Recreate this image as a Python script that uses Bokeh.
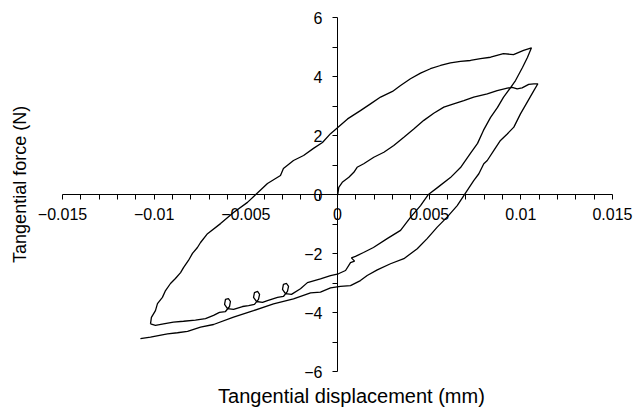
from bokeh.plotting import figure
from bokeh.models import LinearAxis, FixedTicker, Range1d, Label, ColumnDataSource
from bokeh.embed import file_html
from bokeh.resources import INLINE
import math

# ---- data (displacement in mm, force in N) ----
# Cycle B (closed loop): rising branch, descending branch, lower return branch
cycB_up_x = [-0.01020, -0.01015, -0.00993, -0.00982, -0.00955, -0.00938, -0.00911, -0.00884, -0.00856, -0.00840,
             -0.00813, -0.00791, -0.00764, -0.00747, -0.00709, -0.00638, -0.00567, -0.00491, -0.00447, -0.00382,
             -0.00311, -0.00295, -0.00240, -0.00185, -0.00131, -0.00082, -0.00038, 0.0, 0.00055, 0.00125,
             0.00180, 0.00235, 0.00300, 0.00344, 0.00398, 0.00453, 0.00507, 0.00562, 0.00616, 0.00671,
             0.00725, 0.00780, 0.00835, 0.00905, 0.00960, 0.01015, 0.01058]
cycB_up_y = [-4.37, -4.15, -3.92, -3.68, -3.47, -3.24, -3.00, -2.83, -2.63, -2.46,
             -2.22, -1.98, -1.78, -1.61, -1.31, -0.97, -0.59, -0.25, 0.01, 0.39,
             0.66, 0.90, 1.17, 1.34, 1.58, 1.78, 2.08, 2.28, 2.58, 2.86,
             3.09, 3.32, 3.51, 3.71, 3.94, 4.13, 4.28, 4.39, 4.48, 4.53,
             4.56, 4.62, 4.67, 4.79, 4.76, 4.90, 4.99]
cycB_down_x = [0.01036, 0.01009, 0.00971, 0.00944, 0.00905, 0.00873, 0.00835, 0.00796, 0.00764, 0.00725,
               0.00671, 0.00616, 0.00545, 0.00496, 0.00453, 0.00398, 0.00344, 0.00273, 0.00196, 0.00142,
               0.00098, 0.00076, 0.00093, 0.00071, 0.00044, 0.00005, -0.00038]
cycB_down_y = [4.66, 4.32, 3.88, 3.64, 3.31, 2.97, 2.63, 2.19, 1.75, 1.41,
               0.93, 0.59, 0.25, 0.02, -0.36, -0.76, -1.20, -1.47, -1.78, -1.95,
               -2.08, -2.13, -2.24, -2.29, -2.56, -2.67, -2.73]
cycB_back_x = [-0.00093, -0.00164, -0.00202,
               -0.00251, -0.00284, -0.00300, -0.00295, -0.00278, -0.00267, -0.00273, -0.00295, -0.00327,
               -0.00382,
               -0.00409, -0.00442, -0.00458, -0.00453, -0.00436, -0.00425, -0.00431, -0.00453, -0.00485,
               -0.00518,
               -0.00567, -0.00600, -0.00616, -0.00611, -0.00595, -0.00584, -0.00589, -0.00611, -0.00644,
               -0.00676, -0.00720, -0.00775, -0.00840, -0.00895, -0.00949, -0.00993, -0.01020]
cycB_back_y = [-2.84, -2.97, -3.18,
               -3.37, -3.34, -3.20, -3.03, -3.00, -3.10, -3.27, -3.44, -3.47,
               -3.58,
               -3.64, -3.61, -3.47, -3.31, -3.27, -3.37, -3.54, -3.71, -3.75,
               -3.78,
               -3.88, -3.85, -3.71, -3.54, -3.51, -3.61, -3.78, -3.95, -3.98,
               -4.08, -4.19, -4.24, -4.28, -4.31, -4.37, -4.42, -4.37]

# Cycle A: initial loading from origin, then unloading to the negative side
cycA_up_x = [0.0, 0.00002, 0.00007, 0.00026, 0.00062, 0.00089, 0.00107, 0.00143, 0.00198, 0.00253,
             0.00307, 0.00362, 0.00416, 0.00471, 0.00525, 0.00580, 0.00634, 0.00689, 0.00743, 0.00817,
             0.00871, 0.00926, 0.00953, 0.00980, 0.01007, 0.01043, 0.01071, 0.01093]
cycA_up_y = [0.0, 0.04, 0.26, 0.43, 0.60, 0.77, 0.94, 1.06, 1.28, 1.45,
             1.68, 1.96, 2.24, 2.53, 2.77, 2.98, 3.09, 3.20, 3.32, 3.43,
             3.54, 3.62, 3.65, 3.60, 3.63, 3.75, 3.77, 3.77]
cycA_down_x = [0.01071, 0.01035, 0.00998, 0.00962, 0.00926, 0.00889, 0.00853, 0.00817, 0.00798, 0.00771,
               0.00743, 0.00707, 0.00689, 0.00653, 0.00598, 0.00544, 0.00489, 0.00435, 0.00362, 0.00289,
               0.00217, 0.00162, 0.00125, 0.00071, 0.00016, -0.00038, -0.00093, -0.00147, -0.00240, -0.00349,
               -0.00458, -0.00567, -0.00676, -0.00747, -0.00818, -0.00873, -0.00927, -0.00949, -0.01020, -0.01075]
cycA_down_y = [3.54, 3.15, 2.75, 2.30, 2.07, 1.85, 1.51, 1.17, 1.06, 0.72,
               0.49, 0.15, -0.02, -0.36, -0.75, -1.09, -1.48, -1.82, -2.16, -2.33,
               -2.54, -2.73, -2.90, -3.07, -3.10, -3.15, -3.29, -3.32, -3.52, -3.69,
               -3.92, -4.14, -4.39, -4.48, -4.62, -4.67, -4.71, -4.73, -4.82, -4.87]

x_ticks = [-0.015, -0.01, -0.005, 0.0, 0.005, 0.01, 0.015]
x_tick_labels = ["\u22120.015", "\u22120.01", "\u22120.005", "0", "0.005", "0.01", "0.015"]
x_minor = [-0.014, -0.013, -0.012, -0.011, -0.009, -0.008, -0.007, -0.006, -0.004, -0.003, -0.002, -0.001,
           0.001, 0.002, 0.003, 0.004, 0.006, 0.007, 0.008, 0.009, 0.011, 0.012, 0.013, 0.014]
y_ticks = [-6, -4, -2, 0, 2, 4, 6]
y_tick_labels = ["\u22126", "\u22124", "\u22122", "0", "2", "4", "6"]
y_minor = [-5, -3, -1, 1, 3, 5]
x_axis_extent = (-0.015, 0.015)
y_axis_extent = (-6, 6)

x_title = "Tangential displacement (mm)"
y_title = "Tangential force (N)"

FONT = "Liberation Sans"

# frame covers the whole canvas; axes are drawn through the origin and bounded
p = figure(width=633, height=412,
           x_range=Range1d(-0.018382, 0.016146), y_range=Range1d(-7.3729, 6.5932),
           x_axis_location=None, y_axis_location=None,
           output_backend="svg", toolbar_location=None,
           min_border_left=0, min_border_right=0, min_border_top=0, min_border_bottom=0)
p.grid.visible = False
p.outline_line_color = None
p.background_fill_color = "white"
p.border_fill_color = "white"

srcB = ColumnDataSource(dict(x=cycB_up_x + cycB_down_x + cycB_back_x,
                             y=cycB_up_y + cycB_down_y + cycB_back_y))
srcA = ColumnDataSource(dict(x=cycA_up_x + cycA_down_x, y=cycA_up_y + cycA_down_y))
p.line("x", "y", source=srcB, line_color="black", line_width=1.3)
p.line("x", "y", source=srcA, line_color="black", line_width=1.3)

xax = LinearAxis(fixed_location=0, bounds=x_axis_extent,
                 ticker=FixedTicker(ticks=x_ticks, minor_ticks=x_minor),
                 major_label_overrides={t: s for t, s in zip(x_ticks, x_tick_labels)},
                 axis_line_color="black", major_tick_line_color="black", minor_tick_line_color="black",
                 major_tick_in=0, major_tick_out=5, minor_tick_in=0, minor_tick_out=5,
                 major_label_standoff=8, major_label_text_font=FONT, major_label_text_font_size="16px",
                 major_label_text_color="black")
yax = LinearAxis(fixed_location=0, bounds=y_axis_extent,
                 ticker=FixedTicker(ticks=y_ticks, minor_ticks=y_minor),
                 major_label_overrides={t: s for t, s in zip(y_ticks, y_tick_labels)},
                 axis_line_color="black", major_tick_line_color="black", minor_tick_line_color="black",
                 major_tick_in=0, major_tick_out=5, minor_tick_in=0, minor_tick_out=5,
                 major_label_standoff=10, major_label_text_font=FONT, major_label_text_font_size="16px",
                 major_label_text_color="black")
p.add_layout(xax, "below")
p.add_layout(yax, "left")

p.add_layout(Label(x=0.00076, y=-6.80, text=x_title, text_align="center", text_baseline="alphabetic",
                   text_font=FONT, text_font_size="20px", text_color="black"))
p.add_layout(Label(x=-0.01730, y=0.36, text=y_title, angle=math.pi / 2, text_align="center",
                   text_baseline="alphabetic", text_font=FONT, text_font_size="18px", text_color="black"))

open("out.html", "w").write(file_html(p, INLINE))
